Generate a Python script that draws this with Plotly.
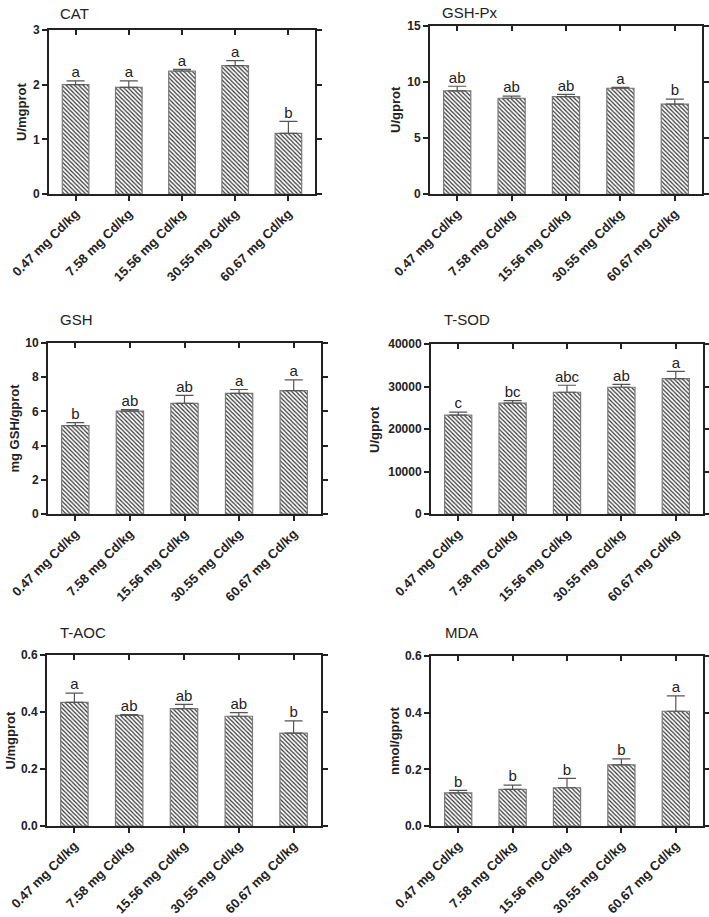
import plotly.graph_objects as go

categories = ["0.47 mg Cd/kg", "7.58 mg Cd/kg", "15.56 mg Cd/kg", "30.55 mg Cd/kg", "60.67 mg Cd/kg"]

cat_mean = [2.00, 1.95, 2.25, 2.35, 1.11]
cat_err = [0.07, 0.12, 0.03, 0.09, 0.22]
cat_letters = ["a", "a", "a", "a", "b"]

gshpx_mean = [9.21, 8.55, 8.70, 9.44, 8.02]
gshpx_err = [0.41, 0.18, 0.20, 0.09, 0.45]
gshpx_letters = ["ab", "ab", "ab", "a", "b"]

gsh_mean = [5.17, 6.02, 6.47, 7.05, 7.22]
gsh_err = [0.17, 0.08, 0.47, 0.23, 0.62]
gsh_letters = ["b", "ab", "ab", "a", "a"]

tsod_mean = [23250, 26070, 28650, 29820, 31860]
tsod_err = [700, 620, 1640, 700, 1720]
tsod_letters = ["c", "bc", "abc", "ab", "a"]

taoc_mean = [0.434, 0.388, 0.412, 0.385, 0.326]
taoc_err = [0.032, 0.003, 0.015, 0.013, 0.043]
taoc_letters = ["a", "ab", "ab", "ab", "b"]

mda_mean = [0.117, 0.129, 0.135, 0.216, 0.405]
mda_err = [0.009, 0.015, 0.033, 0.021, 0.054]
mda_letters = ["b", "b", "b", "b", "a"]

W, H = 709, 917
FONT = "Arial, Liberation Sans, sans-serif"

panels = [
    dict(title="CAT", ytitle="U/mgprot", mean=cat_mean, err=cat_err, letters=cat_letters,
         yrange=[0, 3], ytick=[0, 1, 2, 3], fmt="d", box=(49, 315, 30, 194), tx=58, ty=13, yx=22),
    dict(title="GSH-Px", ytitle="U/gprot", mean=gshpx_mean, err=gshpx_err, letters=gshpx_letters,
         yrange=[0, 15], ytick=[0, 5, 10, 15], fmt="d", box=(430, 702, 26, 194), tx=440, ty=12, yx=395),
    dict(title="GSH", ytitle="mg GSH/gprot", mean=gsh_mean, err=gsh_err, letters=gsh_letters,
         yrange=[0, 10], ytick=[0, 2, 4, 6, 8, 10], fmt="d", box=(48, 321, 343, 514), tx=58, ty=320, yx=14),
    dict(title="T-SOD", ytitle="U/gprot", mean=tsod_mean, err=tsod_err, letters=tsod_letters,
         yrange=[0, 40000], ytick=[0, 10000, 20000, 30000, 40000], fmt="d", box=(431, 703, 344, 514), tx=442, ty=320, yx=374),
    dict(title="T-AOC", ytitle="U/mgprot", mean=taoc_mean, err=taoc_err, letters=taoc_letters,
         yrange=[0, 0.6], ytick=[0, 0.2, 0.4, 0.6], fmt=".1f", box=(47, 321, 655, 826), tx=58, ty=632, yx=10),
    dict(title="MDA", ytitle="nmol/gprot", mean=mda_mean, err=mda_err, letters=mda_letters,
         yrange=[0, 0.6], ytick=[0, 0.2, 0.4, 0.6], fmt=".1f", box=(431, 703, 656, 826), tx=443, ty=632, yx=394),
]

fig = go.Figure()
xpos = list(range(len(categories)))
annotations = []

for i, p in enumerate(panels):
    n = i + 1
    xa = "x" if n == 1 else f"x{n}"
    ya = "y" if n == 1 else f"y{n}"
    xkey = "xaxis" if n == 1 else f"xaxis{n}"
    ykey = "yaxis" if n == 1 else f"yaxis{n}"
    x0, x1, y0, y1 = p["box"]
    dx = [x0 / W, x1 / W]
    dy = [1 - y1 / H, 1 - y0 / H]

    fig.add_trace(go.Bar(
        x=xpos, y=p["mean"], width=0.5, xaxis=xa, yaxis=ya,
        marker=dict(color="white", line=dict(color="#7a7a7a", width=1.2),
                    pattern=dict(shape="\\", fgcolor="#333333", bgcolor="white", size=3, solidity=0.4)),
        error_y=dict(type="data", array=p["err"], arrayminus=[0] * 5, symmetric=False,
                     color="#555555", thickness=1.2, width=9),
        showlegend=False, hoverinfo="skip"))
    tops = [m + e for m, e in zip(p["mean"], p["err"])]
    fig.add_trace(go.Scatter(
        x=xpos, y=tops, mode="text", text=p["letters"], textposition="top center",
        textfont=dict(size=15, color="#222", family=FONT), xaxis=xa, yaxis=ya,
        showlegend=False, hoverinfo="skip", cliponaxis=False))

    fig.layout[xkey] = dict(domain=dx, anchor=ya, range=[-0.5, 4.5], tickmode="array",
                            tickvals=xpos, ticktext=categories, tickangle=-45, automargin=False,
                            ticks="outside", ticklen=5, tickwidth=1.5, tickcolor="#222",
                            showline=True, linecolor="#222", linewidth=2, mirror=True,
                            showgrid=False, zeroline=False,
                            tickfont=dict(size=13, family=FONT, color="#222", weight="bold"))
    fig.layout[ykey] = dict(domain=dy, anchor=xa, range=p["yrange"], tickmode="array",
                            tickvals=p["ytick"], tickformat=p["fmt"], automargin=False,
                            ticks="outside", ticklen=5, tickwidth=1.5, tickcolor="#222",
                            showline=True, linecolor="#222", linewidth=2, mirror="ticks",
                            showgrid=False, zeroline=False,
                            tickfont=dict(size=12, family=FONT, color="#222", weight="bold"))
    ok = 6 + n
    fig.layout[f"xaxis{ok}"] = dict(domain=dx, anchor=ya, overlaying=xa, side="top",
                                    range=[-0.5, 4.5], tickmode="array", tickvals=xpos,
                                    showticklabels=False, ticks="inside", ticklen=5, automargin=False,
                                    tickwidth=1.5, tickcolor="#222", showline=False,
                                    showgrid=False, zeroline=False)
    fig.add_trace(go.Scatter(x=[None], y=[None], xaxis=f"x{ok}", yaxis=ya,
                             showlegend=False, hoverinfo="skip"))

    annotations.append(dict(text=p["title"], x=p["tx"] / W, y=1 - p["ty"] / H, xref="paper", yref="paper",
                            xanchor="left", yanchor="middle", showarrow=False,
                            font=dict(size=15, family=FONT, color="#222")))
    annotations.append(dict(text=p["ytitle"], x=p["yx"] / W, y=1 - (y0 + y1) / 2 / H, xref="paper", yref="paper",
                            xanchor="center", yanchor="middle", textangle=-90, showarrow=False,
                            font=dict(size=13, family=FONT, color="#222", weight="bold")))

fig.update_layout(width=W, height=H, margin=dict(l=0, r=0, t=0, b=0, autoexpand=False),
                  paper_bgcolor="white", plot_bgcolor="white", template="none",
                  annotations=annotations, font=dict(family=FONT))

fig.write_html("out.html", config={"displayModeBar": False},
               post_script="document.body.style.margin='0';document.body.style.overflow='hidden';")
